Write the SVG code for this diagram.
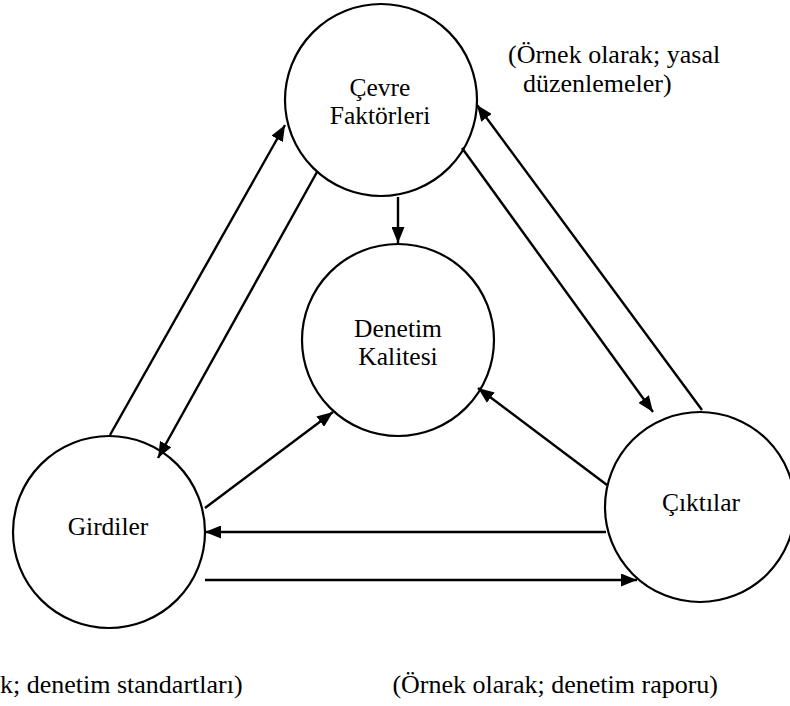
<svg xmlns="http://www.w3.org/2000/svg" width="790" height="706" viewBox="0 0 790 706">
  <style>
    .node circle { fill: #ffffff; stroke: #000000; stroke-width: 2.2; }
    .label { font-family: 'Liberation Serif', 'Times New Roman', serif; font-size: 25.5px; fill: #000000; text-anchor: middle; }
    .note { font-family: 'Liberation Serif', 'Times New Roman', serif; font-size: 26px; fill: #000000; }
    .edge { fill: none; stroke: #000000; stroke-width: 2.4; }
  </style>
  <defs>
    <marker id="arrow" viewBox="0 0 16 13" refX="16" refY="6.5" markerWidth="16" markerHeight="13" markerUnits="userSpaceOnUse" orient="auto">
      <path d="M0,0 L16,6.5 L0,13 z" fill="#000000"/>
    </marker>
  </defs>
  <rect width="790" height="706" fill="#ffffff"/>

  <g id="cevre" class="node">
    <circle cx="381" cy="100" r="96"/>
    <text class="label" x="380" y="96">Çevre</text>
    <text class="label" x="380" y="124">Faktörleri</text>
  </g>
  <g id="denetim" class="node">
    <circle cx="398" cy="340" r="96"/>
    <text class="label" x="398" y="337">Denetim</text>
    <text class="label" x="398" y="365">Kalitesi</text>
  </g>
  <g id="girdiler" class="node">
    <circle cx="109" cy="532" r="96"/>
    <text class="label" x="108" y="535">Girdiler</text>
  </g>
  <g id="ciktilar" class="node">
    <circle cx="700" cy="507" r="95"/>
    <text class="label" x="701" y="511">Çıktılar</text>
  </g>

  <g id="connectors">
    <path class="edge" d="M110,435 L285,125" marker-end="url(#arrow)"/>
    <path class="edge" d="M317,172 L158,458" marker-end="url(#arrow)"/>
    <path class="edge" d="M205,508 L333,412" marker-end="url(#arrow)"/>
    <path class="edge" d="M398,197 L398,243" marker-end="url(#arrow)"/>
    <path class="edge" d="M462,148 L653,412" marker-end="url(#arrow)"/>
    <path class="edge" d="M702,410 L477,105" marker-end="url(#arrow)"/>
    <path class="edge" d="M607,485 L478,388" marker-end="url(#arrow)"/>
    <path class="edge" d="M606,532 L205,532" marker-end="url(#arrow)"/>
    <path class="edge" d="M205,580 L637,580" marker-end="url(#arrow)"/>
  </g>

  <g id="notes">
    <text class="note" x="508" y="63">(Örnek olarak; yasal</text>
    <text class="note" x="523" y="92">düzenlemeler)</text>
    <text class="note" x="0" y="693">k; denetim standartları)</text>
    <text class="note" x="718" y="693" text-anchor="end">(Örnek olarak; denetim raporu)</text>
  </g>
</svg>
